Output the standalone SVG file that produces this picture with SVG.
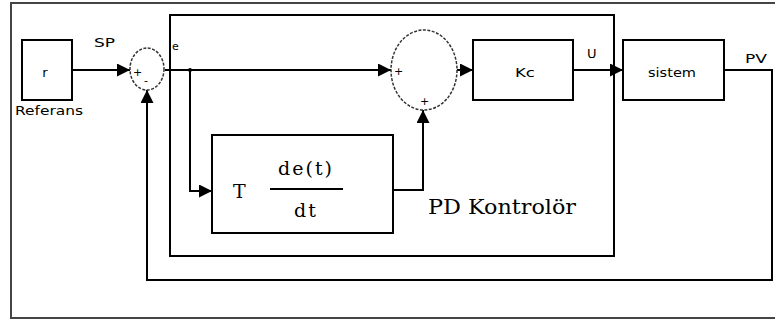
<svg xmlns="http://www.w3.org/2000/svg" width="775" height="322" viewBox="0 0 775 322">
<defs>
<style>
.box{fill:#fff;stroke:#000;stroke-width:2}
.ln{fill:none;stroke:#000;stroke-width:2}
.sum{fill:#fff;stroke:#333;stroke-width:1.5;stroke-dasharray:3 1.5}
.s{font-family:"DejaVu Sans","Liberation Sans",sans-serif;font-size:13px;fill:#000}
.sg{font-family:"DejaVu Sans","Liberation Sans",sans-serif;font-size:11px;fill:#000}
.ser{font-family:"DejaVu Serif","Liberation Serif",serif;fill:#000}
</style>
<marker id="ah" viewBox="0 0 12 12" refX="12" refY="6" markerWidth="13" markerHeight="13" markerUnits="userSpaceOnUse" orient="auto">
<path d="M0,0 L12,6 L0,12 z" fill="#000"/>
</marker>
</defs>
<rect width="775" height="322" fill="#fff"/>
<rect x="11" y="3" width="800" height="315" fill="none" stroke="#444" stroke-width="2"/>
<g id="pd_controller">
<rect x="170" y="15" width="444" height="241" fill="none" stroke="#000" stroke-width="2"/>
<text class="ser" x="428" y="214" font-size="20" textLength="148" lengthAdjust="spacingAndGlyphs">PD Kontrolör</text>
</g>
<g id="connectors">
<path class="ln" d="M72,70 H130" marker-end="url(#ah)"/>
<path class="ln" d="M165,70 H391" marker-end="url(#ah)"/>
<path class="ln" d="M190,70 V191 H212" marker-end="url(#ah)"/>
<path class="ln" d="M393,190 H423 V110" marker-end="url(#ah)"/>
<path class="ln" d="M448,70 H473" marker-end="url(#ah)"/>
<path class="ln" d="M573,70 H623" marker-end="url(#ah)"/>
<path class="ln" d="M724,70 H772 V280 H147 V90" marker-end="url(#ah)"/>
<circle cx="190" cy="70" r="2" fill="#000"/>
</g>
<g id="referans">
<rect class="box" x="22" y="40" width="50" height="60"/>
<text class="s" x="45" y="77" text-anchor="middle">r</text>
<text class="s" x="15" y="115" textLength="68" lengthAdjust="spacingAndGlyphs">Referans</text>
</g>
<text class="s" x="94" y="47" textLength="21" lengthAdjust="spacingAndGlyphs">SP</text>
<text class="sg" x="172" y="50">e</text>
<g id="sum1">
<ellipse class="sum" cx="147" cy="69" rx="17" ry="21"/>
<text class="sg" x="133" y="76">+</text>
<text class="sg" x="144" y="84">-</text>
</g>
<g id="sum2">
<ellipse class="sum" cx="424" cy="70" rx="33" ry="40"/>
<text class="sg" x="394" y="75">+</text>
<text class="sg" x="420" y="105">+</text>
</g>
<g id="kc">
<rect class="box" x="473" y="40" width="100" height="60"/>
<text class="s" x="515" y="77" textLength="20" lengthAdjust="spacingAndGlyphs">Kc</text>
</g>
<text class="s" x="587" y="58">U</text>
<g id="sistem">
<rect class="box" x="623" y="40" width="101" height="60"/>
<text class="s" x="648" y="77" textLength="48" lengthAdjust="spacingAndGlyphs">sistem</text>
</g>
<text class="s" x="745" y="63" textLength="22" lengthAdjust="spacingAndGlyphs">PV</text>
<g id="derivative">
<rect class="box" x="212" y="135" width="181" height="98"/>
<text class="ser" x="233" y="198" font-size="19">T</text>
<text class="ser" x="306" y="175" font-size="19" text-anchor="middle" letter-spacing="2">de(t)</text>
<line x1="270" y1="189" x2="343" y2="189" stroke="#000" stroke-width="2"/>
<text class="ser" x="306" y="217" font-size="19" text-anchor="middle" letter-spacing="2">dt</text>
</g>
</svg>
